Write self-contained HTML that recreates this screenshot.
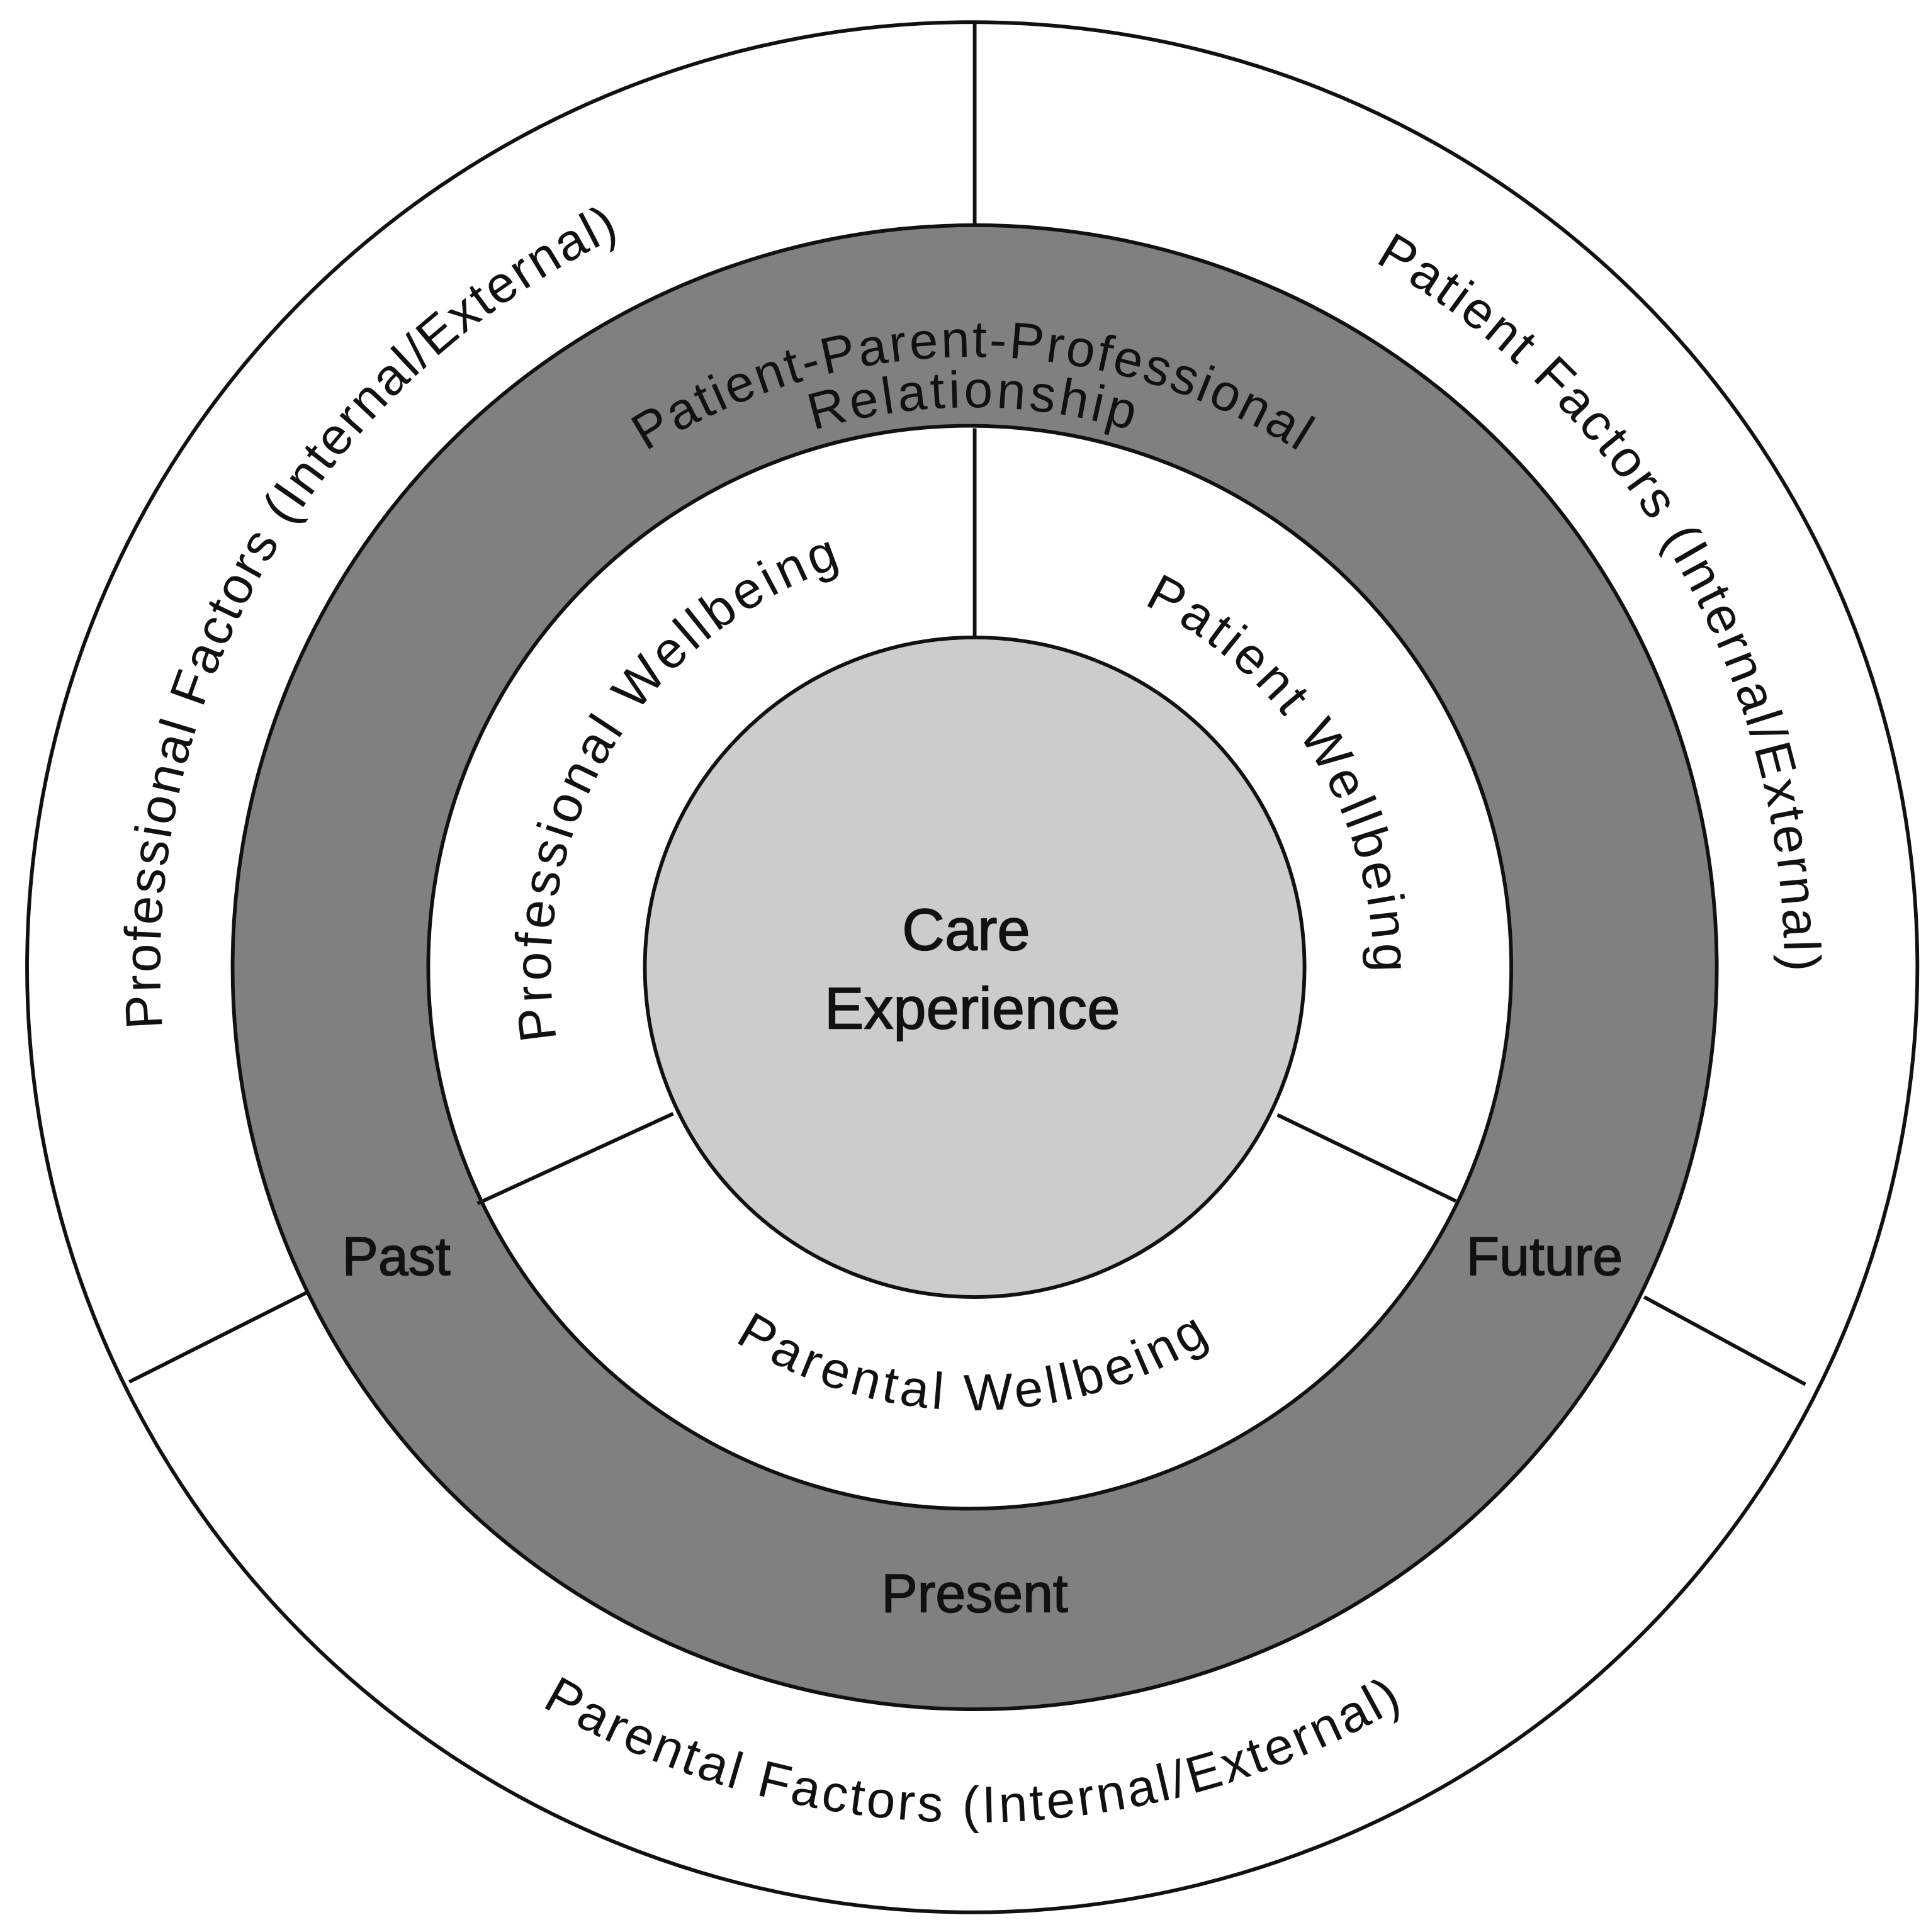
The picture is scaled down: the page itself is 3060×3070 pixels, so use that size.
<!DOCTYPE html>
<html><head><meta charset="utf-8"><style>html,body{margin:0;padding:0;background:#fff}svg{display:block}</style></head>
<body>
<svg width="3060" height="3070" viewBox="0 0 1565 1570" preserveAspectRatio="none" xmlns="http://www.w3.org/2000/svg" font-family="Liberation Sans, Arial, sans-serif">
<defs>
<path id="p1" d="M460,1357.6 A660,660 0 0 1 1120,214.4"/>
<path id="p2" d="M460,214.4 A660,660 0 0 1 1120,1357.6"/>
<path id="p3" d="M95,786 A695,695 0 0 0 1485,786"/>
<path id="p4" d="M294,786 A496,496 0 0 1 1286,786"/>
<path id="p5" d="M335,786 A455,455 0 0 1 1245,786"/>
<path id="p6" d="M612.3,1081.7 A345,345 0 0 1 967.7,490.3"/>
<path id="p7" d="M615.1,506.2 A330,330 0 0 1 964.9,1065.8"/>
<path id="p8" d="M430,786 A360,360 0 0 0 1150,786"/>
</defs>
<rect width="1565" height="1570" fill="#fff"/>
<circle cx="790" cy="786" r="768" fill="#fff" stroke="#111" stroke-width="3"/>
<line x1="792" y1="18" x2="792" y2="188" stroke="#111" stroke-width="3"/>
<line x1="105" y1="1123" x2="250" y2="1050" stroke="#111" stroke-width="3"/>
<line x1="1336" y1="1054" x2="1467" y2="1125" stroke="#111" stroke-width="3"/>
<circle cx="792" cy="786" r="603" fill="#808080" stroke="#111" stroke-width="3"/>
<circle cx="788" cy="786" r="440" fill="#fff" stroke="#111" stroke-width="3"/>
<line x1="792" y1="348" x2="792" y2="520" stroke="#111" stroke-width="3"/>
<line x1="388" y1="978" x2="547" y2="905" stroke="#111" stroke-width="3"/>
<line x1="1038" y1="906" x2="1183" y2="976" stroke="#111" stroke-width="3"/>
<circle cx="792" cy="786" r="268" fill="#cccccc" stroke="#111" stroke-width="3"/>
<g fill="#111" font-size="42">
<text><textPath href="#p1" startOffset="50%" text-anchor="middle" textLength="790" lengthAdjust="spacing">Professional Factors (Internal/External)</textPath></text>
<text><textPath href="#p2" startOffset="50%" text-anchor="middle" textLength="698" lengthAdjust="spacing">Patient Factors (Internal/External)</textPath></text>
<text><textPath href="#p3" startOffset="50%" text-anchor="middle" textLength="734" lengthAdjust="spacing">Parental Factors (Internal/External)</textPath></text>
<text><textPath href="#p4" startOffset="50%" text-anchor="middle" textLength="560" lengthAdjust="spacing">Patient-Parent-Professional</textPath></text>
<text><textPath href="#p5" startOffset="50%" text-anchor="middle" textLength="262" lengthAdjust="spacing">Relationship</textPath></text>
<text><textPath href="#p6" startOffset="50%" text-anchor="middle" textLength="488" lengthAdjust="spacing">Professional Wellbeing</textPath></text>
<text><textPath href="#p7" startOffset="50%" text-anchor="middle" textLength="372" lengthAdjust="spacing">Patient Wellbeing</textPath></text>
<text><textPath href="#p8" startOffset="50%" text-anchor="middle" textLength="408" lengthAdjust="spacing">Parental Wellbeing</textPath></text>
</g>
<g fill="#111" font-size="44" stroke="#111" stroke-width="0.8" text-anchor="middle">
<text x="322" y="1036">Past</text>
<text x="1255" y="1036">Future</text>
<text x="792" y="1310">Present</text>
<text x="785" y="772" font-size="48">Care</text>
<text x="790" y="836" font-size="48">Experience</text>
</g>
</svg>
</body></html>
